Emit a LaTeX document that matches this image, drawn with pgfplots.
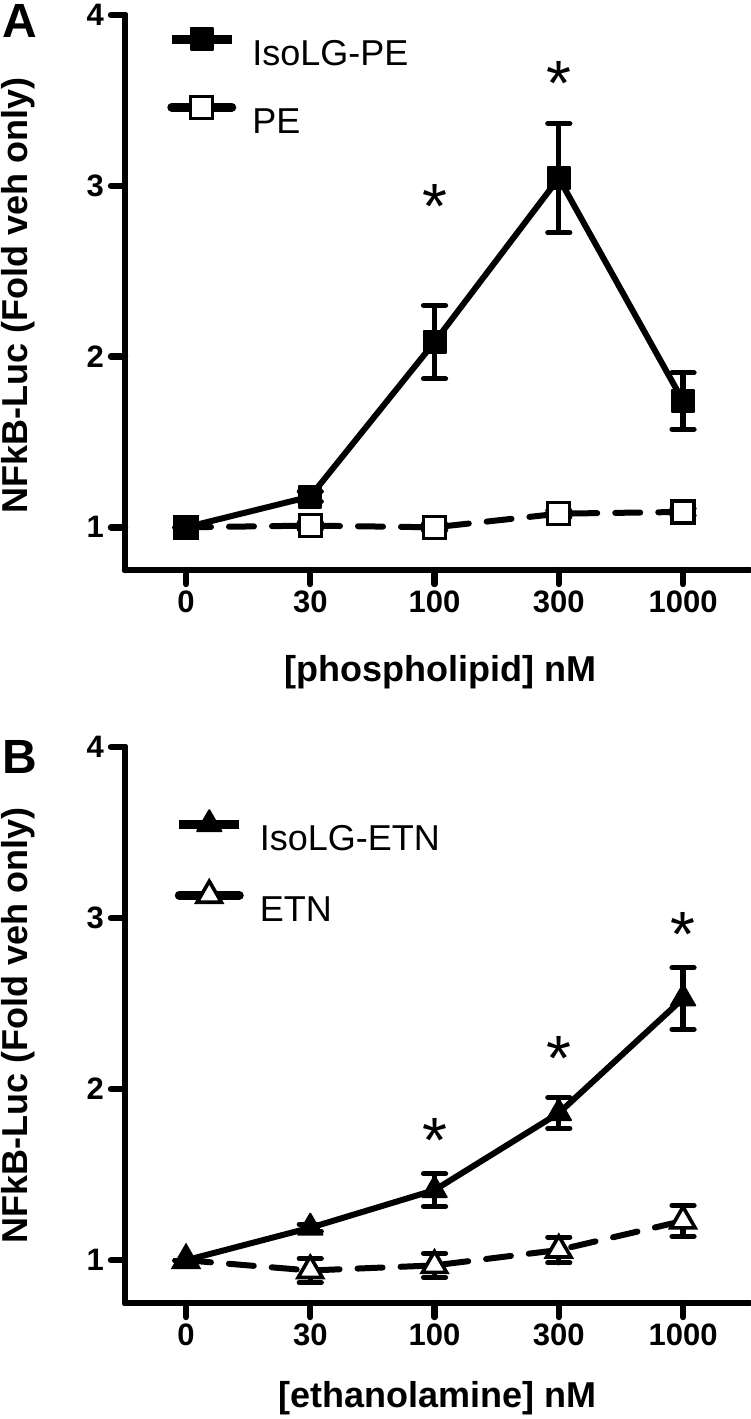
\documentclass[border=0pt]{standalone}
\usepackage{fontspec}
\setmainfont{Liberation Sans}
\usepackage{pgfplots}
\pgfplotsset{compat=1.18}
\pgfplotstableread{
x y e
0 1.00 0
1 1.18 0.03
2 2.085 0.215
3 3.045 0.32
4 1.74 0.165
}\isope
\pgfplotstableread{
x y e
0 1.00 0
1 1.01 0.02
2 1.00 0.02
3 1.08 0.02
4 1.09 0.02
}\pe
\pgfplotstableread{
x y e
0 1.00 0
1 1.19 0.02
2 1.41 0.095
3 1.86 0.09
4 2.53 0.18
}\isoetn
\pgfplotstableread{
x y e
0 1.00 0
1 0.94 0.07
2 0.97 0.07
3 1.06 0.075
4 1.23 0.09
}\etn
\pgfplotsset{
 panel/.style={
  scale only axis, width=312.5pt, height=277.5pt,
  axis x line=bottom, axis y line=left,
  axis line style={line width=3.2pt, -, line cap=round},
  xmin=-0.491, xmax=4.539, ymin=0.75, ymax=4,
  xtick={0,1,2,3,4}, xticklabels={0,30,100,300,1000},
  ytick={1,2,3,4},
  tick align=outside, major tick length=7pt,
  tick style={line width=3.2pt, line cap=round, black},
  ticklabel style={font=\bfseries\fontsize{15.5}{15.5}\selectfont},
  /pgf/number format/assume math mode=true,
  label style={font=\bfseries\fontsize{18}{18}\selectfont},
  clip=false,
  reverse legend,
  legend style={draw=none, fill=none, inner sep=0pt, font=\fontsize{18}{18}\selectfont,
    row sep=15.5pt, nodes={inner sep=0pt, text height=13pt, text depth=0pt}},
  legend cell align=left,
  /tikz/every odd column/.style={column sep=8pt},
  legend image code/.code={
    \draw[mark repeat=2, mark phase=2, ##1, solid, line width=4.5pt]
      plot coordinates {(0pt,6.5pt) (15pt,6.5pt) (30pt,6.5pt)};
  },
 },
 errs/.style={
   error bars/y dir=both, error bars/y explicit,
   error bars/error bar style={line width=2.6pt, solid},
   error bars/error mark options={rotate=90, line width=2.6pt, mark size=5.5pt, line cap=round}},
 solidser/.style={black, line width=3pt, line join=round, errs},
 dashser/.style={black, line width=3pt, line cap=round, dash pattern=on 12.5pt off 9pt, errs},
 stars/.style={draw=none, mark=none, nodes near coords={*},
   every node near coord/.style={anchor=base, yshift=-16pt, font=\fontsize{32}{32}\selectfont}},
}
\begin{document}
\begin{tikzpicture}
\path[use as bounding box] (0,0) rectangle (375pt,-709.5pt);
\node[font=\bfseries\fontsize{24}{24}\selectfont] at (10pt,-10.5pt) {A};
\node[font=\bfseries\fontsize{24}{24}\selectfont] at (10pt,-378.5pt) {B};
\begin{axis}[panel, at={(62.5pt,-285pt)}, anchor=south west,
  xlabel={[phospholipid] nM}, ylabel={NFkB-Luc (Fold veh only)},
  xlabel style={at={(axis description cs:0.504,-0.184)}, anchor=center},
  ylabel style={at={(axis description cs:-0.171,0.495)}, anchor=center},
  legend style={at={(axis description cs:0.067,0.977)}, anchor=north west}]
\addplot[dashser, mark=square*, mark size=5.5pt, mark options={solid, fill=white, line width=1.6pt}]
  table[x=x, y=y, y error=e] {\pe};
\addlegendentry{PE}
\addplot[solidser, mark=square*, mark size=5.5pt, mark options={solid, fill=black, line width=1pt}]
  table[x=x, y=y, y error=e] {\isope};
\addlegendentry{IsoLG-PE}
\addplot[stars, forget plot] coordinates {(2,2.94) (3,3.66)};
\end{axis}
\begin{axis}[panel, at={(62.5pt,-651.5pt)}, anchor=south west, height=278pt,
  xlabel={[ethanolamine] nM}, ylabel={NFkB-Luc (Fold veh only)},
  xlabel style={at={(axis description cs:0.50,-0.171)}, anchor=center},
  ylabel style={at={(axis description cs:-0.171,0.5)}, anchor=center},
  legend style={at={(axis description cs:0.079,0.887)}, anchor=north west}]
\addplot[dashser, mark=triangle*, mark size=7pt, mark options={solid, fill=white, line width=1.8pt}]
  table[x=x, y=y, y error=e] {\etn};
\addlegendentry{ETN}
\addplot[solidser, mark=triangle*, mark size=7pt, mark options={solid, fill=black, line width=1pt}]
  table[x=x, y=y, y error=e] {\isoetn};
\addlegendentry{IsoLG-ETN}
\addplot[stars, forget plot] coordinates {(2,1.76) (3,2.24) (4,2.96)};
\end{axis}
\end{tikzpicture}
\end{document}
